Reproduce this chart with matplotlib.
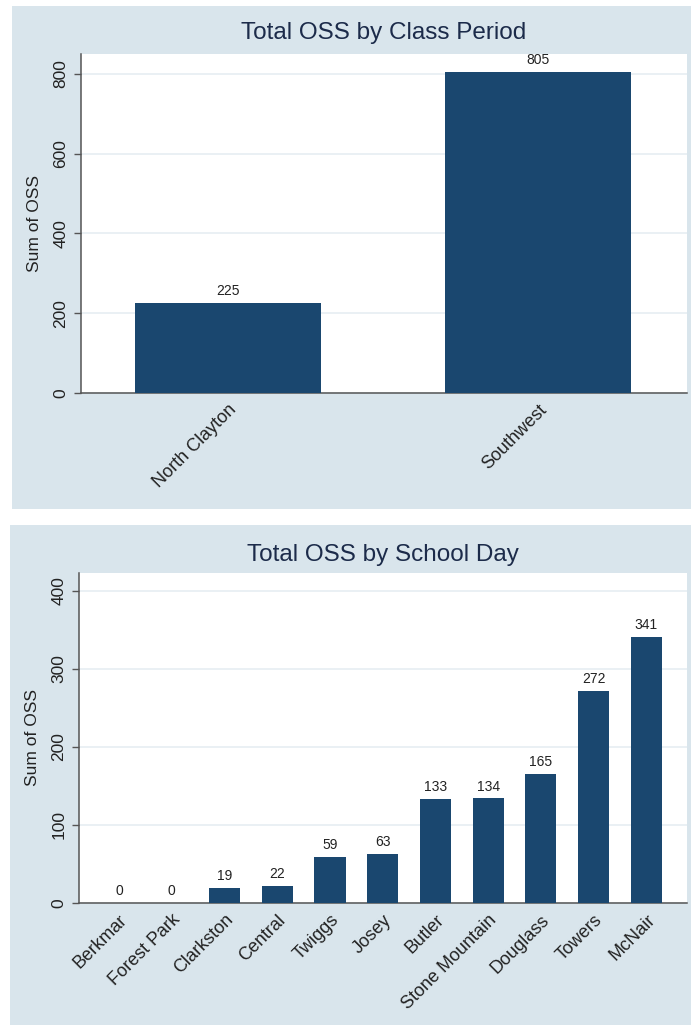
import matplotlib
matplotlib.use("Agg")
import matplotlib.pyplot as plt
from matplotlib.patches import Rectangle

# Data
period_schools = ["North Clayton", "Southwest"]
period_oss = [225, 805]

day_schools = ["Berkmar", "Forest Park", "Clarkston", "Central", "Twiggs", "Josey",
               "Butler", "Stone Mountain", "Douglass", "Towers", "McNair"]
day_oss = [0, 0, 19, 22, 59, 63, 133, 134, 165, 272, 341]

period_ticks = [0, 200, 400, 600, 800]
day_ticks = [0, 100, 200, 300, 400]

W, H = 691, 1025
BG = "#d9e5ec"
BAR = "#1a476f"
TITLE_C = "#1c2b4a"
AXIS_C = "#555555"
GRID_C = "#e6eef2"

plt.rcParams["font.family"] = ["Liberation Sans", "DejaVu Sans"]

fig = plt.figure(figsize=(W / 100, H / 100), dpi=100)
fig.patch.set_facecolor("white")


def fx(x):
    return x / W


def fy(y):
    return 1 - y / H


# panel backgrounds
fig.patches.append(Rectangle((fx(12), fy(509)), fx(691 - 12), (509 - 6) / H,
                             transform=fig.transFigure, facecolor=BG,
                             edgecolor="none", zorder=-10))
fig.patches.append(Rectangle((fx(10), fy(1025)), fx(691 - 10), (1025 - 525) / H,
                             transform=fig.transFigure, facecolor=BG,
                             edgecolor="none", zorder=-10))


def make_panel(left, top, right, bottom, names, values, ticks, ylim, xlim,
               width, title, title_y):
    ax = fig.add_axes([fx(left), fy(bottom), (right - left) / W, (bottom - top) / H])
    ax.set_zorder(1)
    ax.set_facecolor("white")
    pos = list(range(len(names)))
    bars = ax.bar(pos, values, width=width, color=BAR, zorder=3)
    for b, v in zip(bars, values):
        ax.annotate(f"{v}", (b.get_x() + b.get_width() / 2, v),
                    xytext=(0, 3.5), textcoords="offset points",
                    ha="center", va="bottom", fontsize=10, color="#222222")
    ax.set_xlim(*xlim)
    ax.set_ylim(*ylim)
    ax.set_yticks(ticks)
    ax.set_yticklabels([str(t) for t in ticks], rotation=90, va="center",
                       fontsize=12.5, color="#222222")
    ax.set_xticks(pos)
    ax.set_xticklabels(names, rotation=45, ha="right", rotation_mode="anchor",
                       fontsize=13, color="#222222")
    ax.tick_params(axis="x", length=0, pad=6)
    ax.tick_params(axis="y", length=5, width=1, color=AXIS_C, pad=4)
    for s in ("top", "right"):
        ax.spines[s].set_visible(False)
    for s in ("left", "bottom"):
        ax.spines[s].set_color(AXIS_C)
        ax.spines[s].set_linewidth(1.1)
    ax.yaxis.grid(True, color=GRID_C, linewidth=1.2, zorder=0)
    ax.set_axisbelow(True)
    ax.set_ylabel("Sum of OSS", fontsize=12.5, color="#222222", labelpad=8)
    fig.text(fx((left + right) / 2), fy(title_y), title, ha="center",
             va="center", fontsize=17.5, color=TITLE_C)
    return ax


make_panel(81, 54, 687, 393, period_schools, period_oss, period_ticks,
           (0, 850), (-0.474, 1.479), 0.6, "Total OSS by Class Period", 33)
make_panel(79, 573, 687, 903, day_schools, day_oss, day_ticks,
           (0, 423), (-0.758, 10.77), 0.59, "Total OSS by School Day", 555)

fig.savefig("out.png", dpi=100, facecolor=fig.get_facecolor())
